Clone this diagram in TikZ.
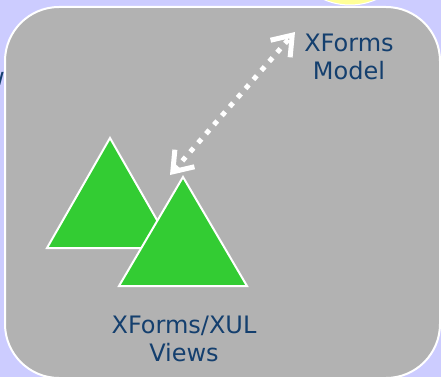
\documentclass[tikz,border=0pt]{standalone}
\usepackage{fontspec}
\setmainfont{DejaVu Sans}
\usepackage{xcolor}
\usetikzlibrary{arrows.meta}
\definecolor{slidebg}{HTML}{CCCCFF}
\definecolor{panelgray}{HTML}{B2B2B2}
\definecolor{leafgreen}{HTML}{33CC33}
\definecolor{labelblue}{HTML}{143F6E}
\definecolor{sunyellow}{HTML}{FFFF99}

\begin{document}
\begin{tikzpicture}[
  x=1pt, y=-1pt,
  lbl/.style={font=\fontsize{24}{28}\selectfont, text=labelblue, align=center, inner sep=0pt},
  panel/.style={fill=panelgray, draw=white, line width=2pt, rounded corners=54pt},
  tri/.style={fill=leafgreen, draw=white, line width=2pt, line join=miter},
  link/.style={draw=white, line width=5pt, dash pattern=on 5pt off 7pt,
    {Straight Barb[length=18pt,width=26pt]}-{Straight Barb[length=18pt,width=26pt]}}
]
\useasboundingbox (0,0) rectangle (441,377);
\fill[slidebg] (0,0) rectangle (441,377);
\begin{scope}
  \clip (0,0) rectangle (441,377);
  \filldraw[fill=sunyellow, draw=white, line width=1pt] (350,-60) circle (65);
  \draw[panel] (5,7) rectangle (440,378);
  \node[lbl, anchor=base east] (cutword) at (5,86) {w};
\end{scope}

\coordinate (backtop) at (110,138);
\coordinate (backleft) at (47,248);
\coordinate (backright) at (173,248);
\coordinate (fronttop) at (183,177);
\coordinate (frontleft) at (119,286);
\coordinate (frontright) at (247,286);
\draw[tri] (backtop) -- (backleft) -- (backright) -- cycle;
\draw[tri] (fronttop) -- (frontleft) -- (frontright) -- cycle;

\node[lbl] (model) at (349,57) {XForms\\Model};
\node[lbl] (views) at (184,339) {XForms/XUL\\Views};

\coordinate (viewtip) at (170,175);
\coordinate (modeltip) at (295,32);
\draw[link] (viewtip) -- (modeltip);
\end{tikzpicture}
\end{document}
